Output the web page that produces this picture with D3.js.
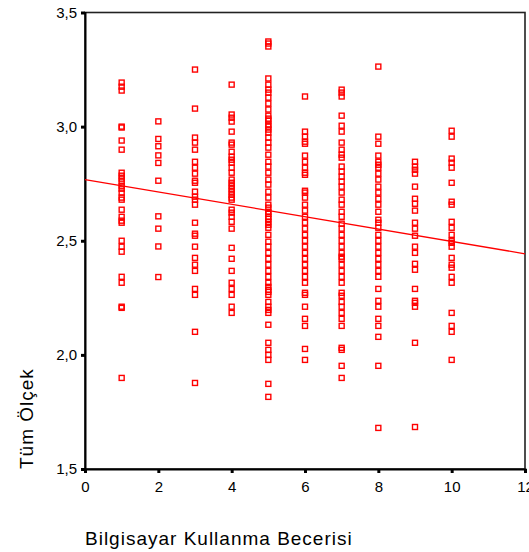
<!DOCTYPE html>
<html>
<head>
<meta charset="utf-8">
<script src="https://cdn.jsdelivr.net/npm/d3@7"></script>
<style>
  body { margin: 0; background: #fff; }
  text { font-family: "Liberation Sans", Arial, Helvetica, sans-serif; }
</style>
</head>
<body>
<script>
// skill level (x) and the scale scores
const skill = [1, 2, 3, 4, 5, 6, 7, 8, 9, 10];
const scores = [
  [3.193, 3.175, 3.158, 3.0, 2.996, 2.939, 2.899, 2.798, 2.785, 2.772, 2.759, 2.741, 2.728, 2.711, 2.689, 2.68, 2.636, 2.605, 2.588, 2.579, 2.5, 2.474, 2.452, 2.342, 2.316, 2.211, 2.206, 1.899],
  [3.023, 2.946, 2.914, 2.874, 2.841, 2.763, 2.607, 2.553, 2.475, 2.341],
  [3.25, 3.079, 2.952, 2.93, 2.899, 2.846, 2.82, 2.794, 2.763, 2.754, 2.715, 2.693, 2.68, 2.658, 2.579, 2.531, 2.522, 2.474, 2.425, 2.395, 2.368, 2.289, 2.263, 2.101, 1.877],
  [3.184, 3.053, 3.039, 3.022, 2.978, 2.93, 2.921, 2.89, 2.868, 2.855, 2.842, 2.82, 2.798, 2.768, 2.754, 2.741, 2.728, 2.715, 2.702, 2.689, 2.68, 2.636, 2.623, 2.605, 2.583, 2.553, 2.469, 2.421, 2.368, 2.316, 2.289, 2.263, 2.211, 2.184],
  [3.373, 3.364, 3.351, 3.211, 3.184, 3.162, 3.149, 3.127, 3.101, 3.075, 3.048, 3.035, 3.026, 3.009, 3.0, 2.987, 2.974, 2.952, 2.93, 2.908, 2.877, 2.846, 2.825, 2.798, 2.768, 2.746, 2.715, 2.689, 2.658, 2.645, 2.627, 2.618, 2.605, 2.596, 2.583, 2.57, 2.557, 2.526, 2.496, 2.474, 2.447, 2.421, 2.395, 2.368, 2.342, 2.316, 2.298, 2.285, 2.276, 2.263, 2.232, 2.211, 2.197, 2.184, 2.132, 2.053, 2.022, 2.0, 1.978, 1.873, 1.816],
  [3.132, 2.978, 2.956, 2.934, 2.925, 2.873, 2.846, 2.82, 2.798, 2.789, 2.719, 2.711, 2.689, 2.658, 2.632, 2.605, 2.579, 2.553, 2.526, 2.5, 2.474, 2.447, 2.421, 2.395, 2.368, 2.342, 2.316, 2.272, 2.263, 2.211, 2.158, 2.127, 2.026, 1.978],
  [3.162, 3.149, 3.132, 3.048, 3.004, 2.978, 2.93, 2.899, 2.877, 2.864, 2.825, 2.803, 2.781, 2.759, 2.737, 2.711, 2.68, 2.658, 2.627, 2.605, 2.575, 2.553, 2.526, 2.5, 2.474, 2.447, 2.43, 2.421, 2.395, 2.368, 2.342, 2.316, 2.272, 2.259, 2.232, 2.211, 2.184, 2.158, 2.127, 2.031, 2.022, 1.952, 1.899],
  [3.263, 2.956, 2.925, 2.873, 2.846, 2.833, 2.82, 2.794, 2.768, 2.737, 2.711, 2.684, 2.658, 2.627, 2.592, 2.579, 2.557, 2.526, 2.5, 2.474, 2.447, 2.421, 2.395, 2.368, 2.342, 2.289, 2.237, 2.211, 2.158, 2.127, 2.079, 1.952, 1.68],
  [2.846, 2.825, 2.811, 2.794, 2.737, 2.684, 2.662, 2.632, 2.579, 2.553, 2.522, 2.474, 2.447, 2.399, 2.373, 2.289, 2.237, 2.228, 2.211, 2.053, 1.684],
  [2.982, 2.956, 2.86, 2.842, 2.82, 2.754, 2.671, 2.658, 2.583, 2.557, 2.526, 2.5, 2.491, 2.474, 2.425, 2.395, 2.382, 2.342, 2.316, 2.184, 2.127, 2.101, 1.978]
];
// fitted line
const fitIntercept = 2.768, fitSlope = -0.0271;
const xTicks = [0, 2, 4, 6, 8, 10, 12];
const yTicks = [1.5, 2.0, 2.5, 3.0, 3.5];

const w = 529, h = 552;
const svg = d3.select("body").append("svg").attr("width", w).attr("height", h);

const x = d3.scaleLinear().domain([0, 12]).range([85, 525]);
const y = d3.scaleLinear().domain([1.5, 3.5]).range([469, 12.5]);

// frame
svg.append("rect")
   .attr("x", x(0)).attr("y", y(3.5))
   .attr("width", x(12) - x(0)).attr("height", y(1.5) - y(3.5))
   .attr("fill", "none").attr("stroke", "#222").attr("stroke-width", 1.6);

const fmt = d => d3.format(".1f")(d).replace(".", ",");

const yAxis = svg.append("g").attr("transform", `translate(${x(0)},0)`)
   .call(d3.axisLeft(y).tickValues(yTicks).tickSize(4).tickPadding(4).tickFormat(fmt));
const xAxis = svg.append("g").attr("transform", `translate(0,${y(1.5)})`)
   .call(d3.axisBottom(x).tickValues(xTicks).tickSize(4).tickPadding(8).tickFormat(d3.format("d")));

[xAxis, yAxis].forEach(g => {
  g.select(".domain").attr("stroke", "#000").attr("stroke-width", 2);
  g.selectAll(".tick line").attr("stroke", "#000").attr("stroke-width", 3);
  g.selectAll(".tick text").attr("fill", "#000").style("font-size", "15px")
   .style("font-family", '"Liberation Sans", Arial, sans-serif');
});

// points
const pts = [];
skill.forEach((s, i) => scores[i].forEach(v => pts.push([s, v])));
svg.append("g").selectAll("rect")
   .data(pts).enter().append("rect")
   .attr("x", d => x(d[0]) - 2.5)
   .attr("y", d => y(d[1]) - 2.5)
   .attr("width", 5).attr("height", 5)
   .attr("fill", "none").attr("stroke", "#ff0000").attr("stroke-width", 1.4);

// regression line
svg.append("line")
   .attr("x1", x(0)).attr("y1", y(fitIntercept))
   .attr("x2", x(12)).attr("y2", y(fitIntercept + fitSlope * 12))
   .attr("stroke", "#ff0000").attr("stroke-width", 1.3);

// titles
svg.append("text")
   .attr("x", 85).attr("y", 545)
   .style("font-size", "19px").style("letter-spacing", "1px").attr("fill", "#000")
   .text("Bilgisayar Kullanma Becerisi");
svg.append("text")
   .attr("transform", "translate(33,469) rotate(-90)")
   .style("font-size", "19px").style("letter-spacing", "1px").attr("fill", "#000")
   .text("Tüm Ölçek");
</script>
</body>
</html>
